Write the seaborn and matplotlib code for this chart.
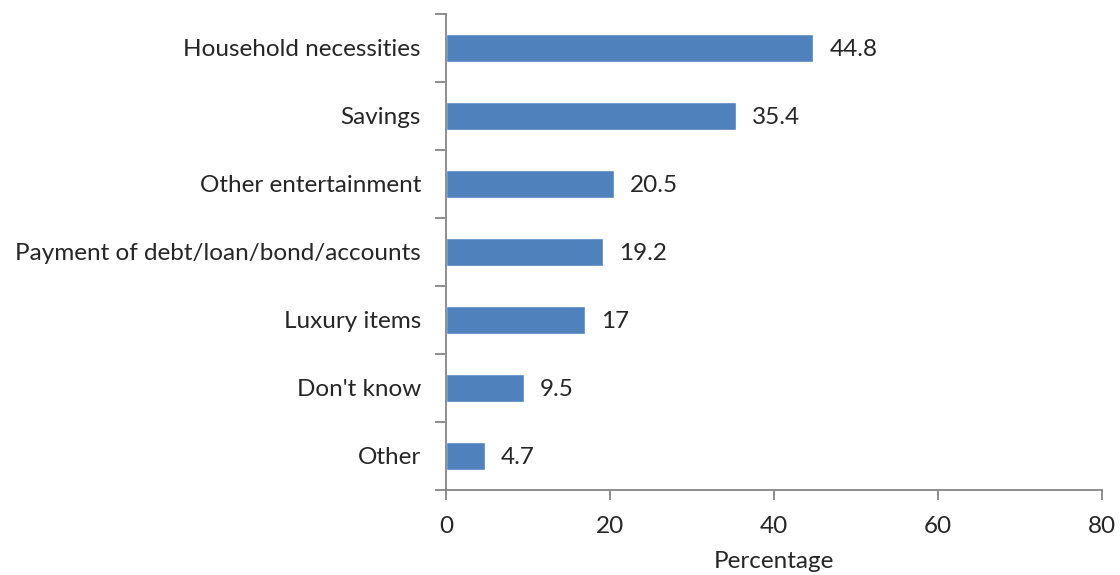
import matplotlib
matplotlib.use("Agg")
import matplotlib.pyplot as plt
import seaborn as sns
import pandas as pd
import numpy as np

categories = ["Household necessities", "Savings", "Other entertainment",
              "Payment of debt/loan/bond/accounts", "Luxury items", "Don't know", "Other"]
values = [44.8, 35.4, 20.5, 19.2, 17, 9.5, 4.7]
value_labels = ["44.8", "35.4", "20.5", "19.2", "17", "9.5", "4.7"]
x_ticks = [0, 20, 40, 60, 80]

sns.set_style("white")
plt.rcParams['font.family'] = ['Lato', 'DejaVu Sans']
FS = 17.5

fig = plt.figure(figsize=(11.2, 5.75), dpi=100)
ax = fig.add_axes([446/1120, 85/575, 656/1120, 476/575])

df = pd.DataFrame({"cat": categories, "val": values})
sns.barplot(data=df, x="val", y="cat", orient="h", color="#4F81BD", saturation=1,
            width=0.4, ax=ax)

ax.set_xlim(0, 80)
ax.set_ylim(len(categories) - 0.5, -0.5)
ax.set_xticks(x_ticks)
ax.set_xticklabels([str(t) for t in x_ticks], fontsize=FS)
ax.set_yticks(range(len(categories)))
ax.set_yticklabels(categories, fontsize=FS)
ax.set_yticks(np.arange(-0.5, len(categories), 1.0), minor=True)
ax.tick_params(axis="y", which="major", left=True, length=0, pad=18)
ax.tick_params(axis="y", which="minor", left=True, length=8, width=1.3, color="#868686", direction="out")
ax.tick_params(axis="x", which="major", bottom=True, length=7, width=1.3, color="#868686", direction="out", pad=12)

for s in ["top", "right"]:
    ax.spines[s].set_visible(False)
for s in ["left", "bottom"]:
    ax.spines[s].set_color("#868686")
    ax.spines[s].set_linewidth(1.3)

ax.set_ylabel("")
ax.set_xlabel("Percentage", fontsize=FS, labelpad=10)

for i, (v, lab) in enumerate(zip(values, value_labels)):
    ax.annotate(lab, xy=(v, i), xytext=(16, -2), textcoords="offset pixels",
                va="center", ha="left", fontsize=FS)

fig.savefig("out.png", dpi=100)
